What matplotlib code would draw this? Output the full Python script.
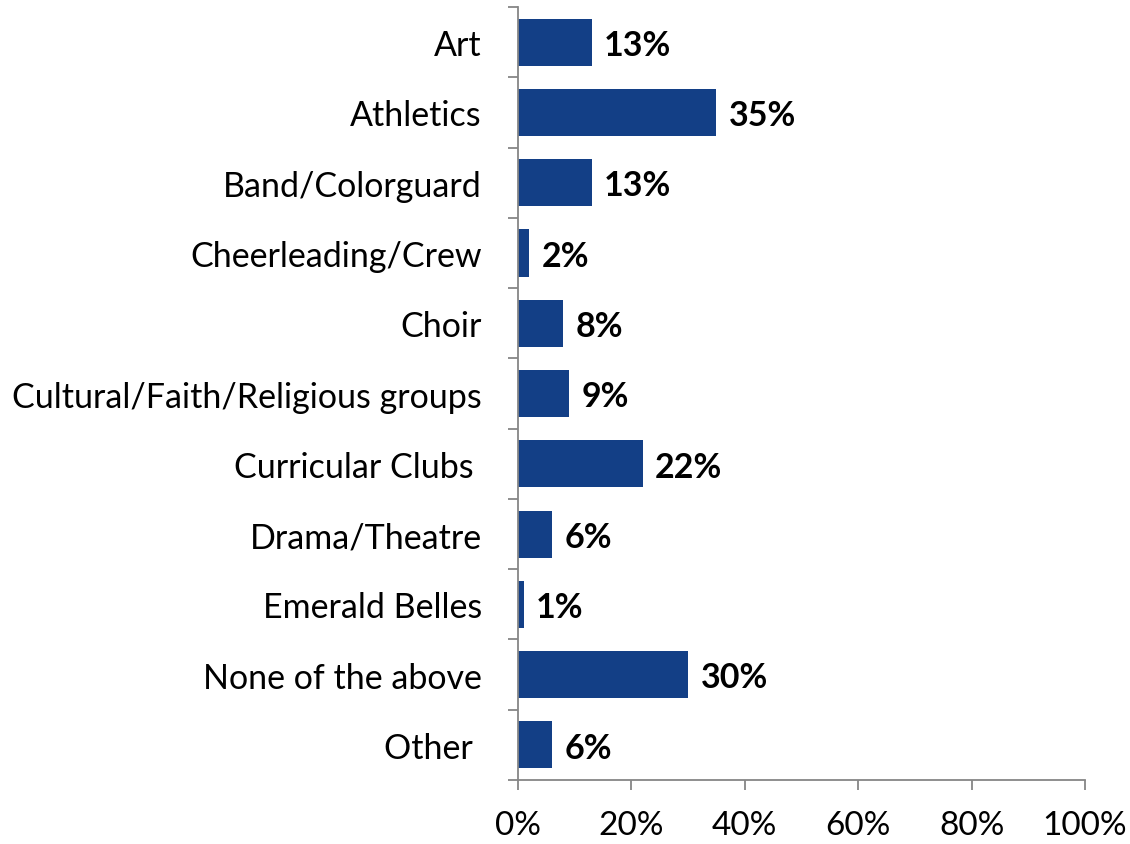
import numpy as np
import matplotlib
matplotlib.use("Agg")
import matplotlib.pyplot as plt
from matplotlib.ticker import FixedLocator, PercentFormatter

categories = ["Art", "Athletics", "Band/Colorguard", "Cheerleading/Crew", "Choir",
              "Cultural/Faith/Religious groups", "Curricular Clubs ", "Drama/Theatre",
              "Emerald Belles", "None of the above", "Other "]
values = [13, 35, 13, 2, 8, 9, 22, 6, 1, 30, 6]
xticks = [0, 20, 40, 60, 80, 100]

plt.rcParams['font.family'] = ['Lato', 'DejaVu Sans']

fig = plt.figure(figsize=(11.3, 8.45), dpi=100)
ax = fig.add_axes([0.4584, 0.0757, 0.5018, 0.9148])

y = np.arange(len(categories))
ax.barh(y, values, height=0.67, color="#133F86")
ax.set_ylim(len(categories) - 0.5, -0.5)
ax.set_xlim(0, 100)

# value labels right of each bar
for yi, v in zip(y, values):
    ax.annotate("%d%%" % v, (v, yi), xytext=(9, -2), textcoords="offset points",
                va="center", ha="left", fontsize=24.5, fontweight="bold", color="black")

ax.set_yticks(y)
ax.set_yticklabels(categories, fontsize=24.5)
# tick marks sit between categories
ax.yaxis.set_minor_locator(FixedLocator(np.arange(len(categories) + 1) - 0.5))
ax.tick_params(axis="y", which="major", length=0, pad=26)
ax.tick_params(axis="y", which="minor", length=7.5, width=1.3, color="#868686", direction="out")

ax.set_xticks(xticks)
ax.xaxis.set_major_formatter(PercentFormatter(decimals=0))
ax.tick_params(axis="x", length=7.5, width=1.3, color="#868686", labelsize=24, pad=14)

for s in ["top", "right"]:
    ax.spines[s].set_visible(False)
for s in ["left", "bottom"]:
    ax.spines[s].set_color("#868686")
    ax.spines[s].set_linewidth(1.3)

fig.savefig("out.png", dpi=100)
